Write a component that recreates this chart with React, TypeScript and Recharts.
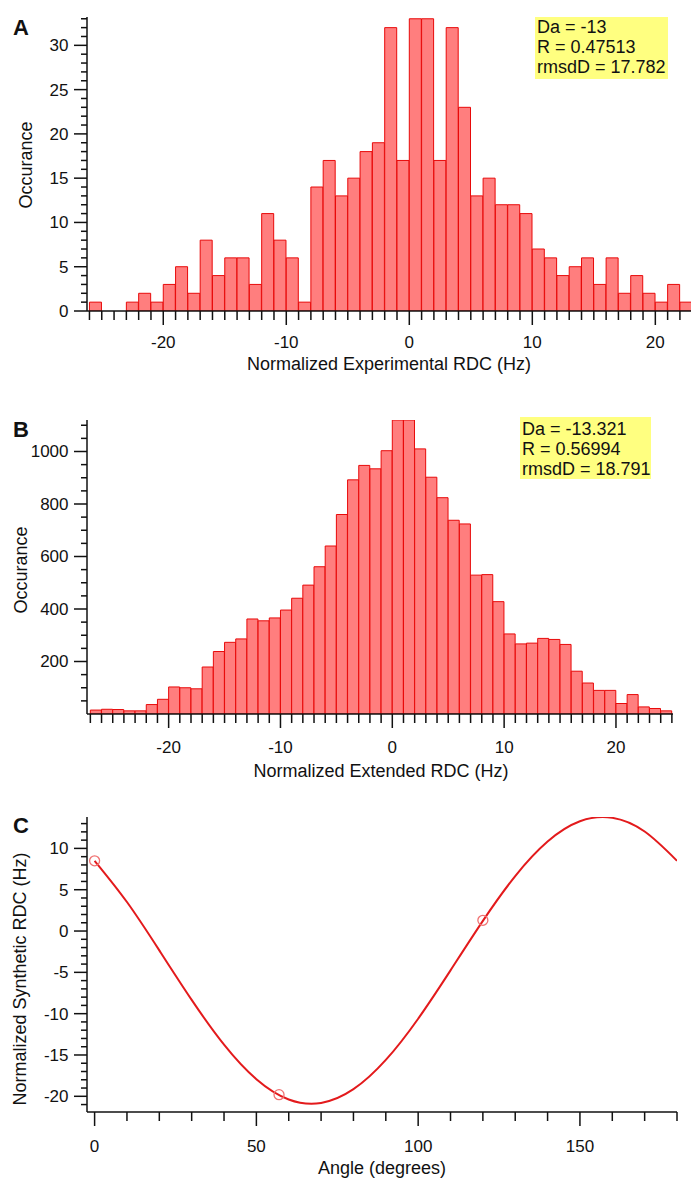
import React from 'react';
import { ComposedChart, Bar, Line, Scatter, XAxis, YAxis } from 'recharts';

const FONT = '"Liberation Sans", Arial, Helvetica, sans-serif';
const INK = '#111111';
const BAR_FILL = '#ff7e7e';
const BAR_STROKE = '#e80a0a';

// ---------- Panel A : normalized experimental RDC histogram ----------
const expBinCenters = [
  -25.5, -24.5, -23.5, -22.5, -21.5, -20.5, -19.5, -18.5, -17.5, -16.5,
  -15.5, -14.5, -13.5, -12.5, -11.5, -10.5, -9.5, -8.5, -7.5, -6.5,
  -5.5, -4.5, -3.5, -2.5, -1.5, -0.5, 0.5, 1.5, 2.5, 3.5,
  4.5, 5.5, 6.5, 7.5, 8.5, 9.5, 10.5, 11.5, 12.5, 13.5,
  14.5, 15.5, 16.5, 17.5, 18.5, 19.5, 20.5, 21.5, 22.5,
];
const expCounts = [
  1, 0, 0, 1, 2, 1, 3, 5, 2, 8,
  4, 6, 6, 3, 11, 8, 6, 1, 14, 17,
  13, 15, 18, 19, 32, 17, 33, 33, 17, 32,
  23, 13, 15, 12, 12, 11, 7, 6, 4, 5,
  6, 3, 6, 2, 4, 2, 1, 3, 1,
];
const expXMajor = [-20, -10, 0, 10, 20];
const expYMajor = [0, 5, 10, 15, 20, 25, 30];
const expStats = ['Da = -13', 'R = 0.47513', 'rmsdD = 17.782'];

// ---------- Panel B : normalized extended RDC histogram ----------
const extBinCenters = [
  -26.5, -25.5, -24.5, -23.5, -22.5, -21.5, -20.5, -19.5, -18.5, -17.5,
  -16.5, -15.5, -14.5, -13.5, -12.5, -11.5, -10.5, -9.5, -8.5, -7.5,
  -6.5, -5.5, -4.5, -3.5, -2.5, -1.5, -0.5, 0.5, 1.5, 2.5,
  3.5, 4.5, 5.5, 6.5, 7.5, 8.5, 9.5, 10.5, 11.5, 12.5,
  13.5, 14.5, 15.5, 16.5, 17.5, 18.5, 19.5, 20.5, 21.5, 22.5,
  23.5, 24.5,
];
const extCounts = [
  15, 18, 17, 12, 12, 36, 56, 103, 100, 96,
  179, 238, 273, 286, 362, 355, 366, 396, 441, 491,
  561, 640, 760, 892, 947, 934, 1003, 1120, 1120, 1010,
  902, 824, 738, 724, 529, 531, 428, 305, 267, 270,
  288, 284, 265, 163, 118, 90, 90, 40, 74, 27,
  21, 12,
];
const extXMajor = [-20, -10, 0, 10, 20];
const extYMajor = [200, 400, 600, 800, 1000];
const extStats = ['Da = -13.321', 'R = 0.56994', 'rmsdD = 18.791'];

// ---------- Panel C : synthetic RDC vs angle ----------
const curveAngles = [0, 10, 20, 30, 40, 50, 60, 70, 80, 90, 100, 110, 120, 130, 140, 150, 160, 170, 180];
const curveRdc = [8.5, 3.51, -2.34, -8.33, -13.75, -17.93, -20.38, -20.8, -19.14, -15.6, -10.61, -4.76, 1.23, 6.65, 10.83, 13.28, 13.7, 12.04, 8.5];
const pointAngles = [0, 57, 120];
const pointRdc = [8.5, -19.8, 1.3];
const angleMajor = [0, 50, 100, 150];
const rdcYMajor = [-20, -15, -10, -5, 0, 5, 10];

// tick position helper (axis tick marks only)
const range = (a: number, b: number, step: number) => {
  const out: number[] = [];
  for (let v = a; v <= b + 1e-9; v += step) out.push(Math.round(v * 1000) / 1000);
  return out;
};

const expXTicks = range(-26, 22, 1);
const expYTicks = range(0, 33, 1);
const extXTicks = range(-27, 25, 1);
const extYTicks = range(50, 1100, 50);
const angleTicks = range(0, 180, 10);
const rdcYTicks = range(-21, 13, 1);

const expData = expBinCenters.map((x, i) => ({ x, v: expCounts[i] }));
const extData = extBinCenters.map((x, i) => ({ x, v: extCounts[i] }));
const curveData = curveAngles.map((a, i) => ({ a, v: curveRdc[i] }));
const pointData = pointAngles.map((a, i) => ({ a, v: pointRdc[i] }));

const X_MINOR = 9;
const X_MAJOR = 14;
const Y_MINOR = 6;
const Y_MAJOR = 13;

// Recharts draws the minor-length tick line; the custom tick extends majors and adds labels.
const makeXTick = (majors: number[], labelDy: number) => (props: any) => {
  const { x, y, payload } = props;
  const major = majors.includes(payload.value);
  if (!major) return <g />;
  return (
    <g>
      <line x1={x} y1={y} x2={x} y2={y + (X_MAJOR - X_MINOR)} stroke={INK} strokeWidth={1.5} />
      <text x={x} y={y + labelDy - X_MINOR} textAnchor="middle" fontSize={17} fontFamily={FONT} fill={INK}>
        {String(payload.value)}
      </text>
    </g>
  );
};

const makeYTick = (majors: number[]) => (props: any) => {
  const { x, y, payload } = props;
  const major = majors.includes(payload.value);
  if (!major) return <g />;
  return (
    <g>
      <line x1={x} y1={y} x2={x - (Y_MAJOR - Y_MINOR)} y2={y} stroke={INK} strokeWidth={1.5} />
      <text x={x - (18.5 - Y_MINOR)} y={y} dy="0.35em" textAnchor="end" fontSize={17} fontFamily={FONT} fill={INK}>
        {String(payload.value)}
      </text>
    </g>
  );
};

const axisLine = { stroke: INK, strokeWidth: 1.5 };
const tickLine = { stroke: INK, strokeWidth: 1.5 };

const StatBox = ({ x, y, w, h, lines, padTop }: { x: number; y: number; w: number; h: number; lines: string[]; padTop: number }) => (
  <g>
    <rect x={x} y={y} width={w} height={h} fill="#ffff80" />
    {lines.map((t, i) => (
      <text key={i} x={x + 2} y={y + padTop + 16 + i * 20} fontSize={18} fontFamily={FONT} fill={INK}>
        {t}
      </text>
    ))}
  </g>
);

export default function App() {
  return (
    <div style={{ position: 'absolute', left: 0, top: 0, width: 691, height: 1181, background: '#ffffff', overflow: 'hidden' }}>
      {/* Panel A */}
      <div style={{ position: 'absolute', left: 0, top: 0 }}>
        <ComposedChart width={691} height={385} data={expData} margin={{ top: 17, right: 0, bottom: 0, left: 0 }} barCategoryGap={0} barGap={0}>
          <XAxis
            dataKey="x"
            type="number"
            domain={[-26.2, 22.9]}
            allowDataOverflow
            ticks={expXTicks}
            interval={0}
            height={74}
            tickSize={X_MINOR}
            tickMargin={0}
            axisLine={axisLine}
            tickLine={tickLine}
            tick={makeXTick(expXMajor, 37)}
          />
          <YAxis
            type="number"
            domain={[0, 33.2]}
            allowDataOverflow
            ticks={expYTicks}
            interval={0}
            width={87}
            tickSize={Y_MINOR}
            tickMargin={0}
            axisLine={axisLine}
            tickLine={tickLine}
            tick={makeYTick(expYMajor)}
          />
          <Bar dataKey="v" fill={BAR_FILL} stroke={BAR_STROKE} strokeWidth={1} isAnimationActive={false} />
        </ComposedChart>
      </div>

      {/* Panel B */}
      <div style={{ position: 'absolute', left: 0, top: 400 }}>
        <ComposedChart width={691} height={385} data={extData} margin={{ top: 20, right: 18, bottom: 0, left: 0 }} barCategoryGap={0} barGap={0}>
          <XAxis
            dataKey="x"
            type="number"
            domain={[-27.3, 25.1]}
            allowDataOverflow
            ticks={extXTicks}
            interval={0}
            height={71}
            tickSize={X_MINOR}
            tickMargin={0}
            axisLine={axisLine}
            tickLine={tickLine}
            tick={makeXTick(extXMajor, 39)}
          />
          <YAxis
            type="number"
            domain={[0, 1120]}
            allowDataOverflow
            ticks={extYTicks}
            interval={0}
            width={87}
            tickSize={Y_MINOR}
            tickMargin={0}
            axisLine={axisLine}
            tickLine={tickLine}
            tick={makeYTick(extYMajor)}
          />
          <Bar dataKey="v" fill={BAR_FILL} stroke={BAR_STROKE} strokeWidth={1} isAnimationActive={false} />
        </ComposedChart>
      </div>

      {/* Panel C */}
      <div style={{ position: 'absolute', left: 0, top: 800 }}>
        <ComposedChart width={691} height={381} margin={{ top: 17, right: 14, bottom: 0, left: 0 }}>
          <XAxis
            dataKey="a"
            type="number"
            domain={[-2.35, 180]}
            allowDataOverflow
            ticks={angleTicks}
            interval={0}
            height={69}
            tickSize={X_MINOR}
            tickMargin={0}
            axisLine={axisLine}
            tickLine={tickLine}
            tick={makeXTick(angleMajor, 39.5)}
          />
          <YAxis
            dataKey="v"
            type="number"
            domain={[-21.9, 13.8]}
            allowDataOverflow
            ticks={rdcYTicks}
            interval={0}
            width={87}
            tickSize={Y_MINOR}
            tickMargin={0}
            axisLine={axisLine}
            tickLine={tickLine}
            tick={makeYTick(rdcYMajor)}
          />
          <Line data={curveData} dataKey="v" type="natural" stroke="#e31a1c" strokeWidth={2} dot={false} isAnimationActive={false} />
          <Scatter
            data={pointData}
            dataKey="v"
            isAnimationActive={false}
            shape={(p: any) => <circle cx={p.cx} cy={p.cy} r={5} fill="none" stroke="#f07272" strokeWidth={1.3} />}
          />
        </ComposedChart>
      </div>

      {/* Text overlay: panel letters, axis titles, stat boxes */}
      <svg width={691} height={1181} style={{ position: 'absolute', left: 0, top: 0, pointerEvents: 'none' }}>
        <text x={13} y={35} fontSize={22} fontWeight="bold" fontFamily={FONT} fill={INK}>A</text>
        <text x={13} y={437} fontSize={22} fontWeight="bold" fontFamily={FONT} fill={INK}>B</text>
        <text x={13} y={833} fontSize={22} fontWeight="bold" fontFamily={FONT} fill={INK}>C</text>

        <text x={389} y={370} textAnchor="middle" fontSize={18} fontFamily={FONT} fill={INK}>Normalized Experimental RDC (Hz)</text>
        <text transform="translate(32,165) rotate(-90)" textAnchor="middle" fontSize={18} fontFamily={FONT} fill={INK}>Occurance</text>

        <text x={381} y={777} textAnchor="middle" fontSize={18} fontFamily={FONT} fill={INK}>Normalized Extended RDC (Hz)</text>
        <text transform="translate(26.5,570) rotate(-90)" textAnchor="middle" fontSize={18} fontFamily={FONT} fill={INK}>Occurance</text>

        <text x={382} y={1174} textAnchor="middle" fontSize={18} fontFamily={FONT} fill={INK}>Angle (degrees)</text>
        <text transform="translate(26,979) rotate(-90)" textAnchor="middle" fontSize={18} fontFamily={FONT} fill={INK}>Normalized Synthetic RDC (Hz)</text>

        <StatBox x={535} y={17} w={133} h={62} lines={expStats} padTop={0} />
        <StatBox x={520} y={417} w={131} h={62} lines={extStats} padTop={2} />
      </svg>
    </div>
  );
}
